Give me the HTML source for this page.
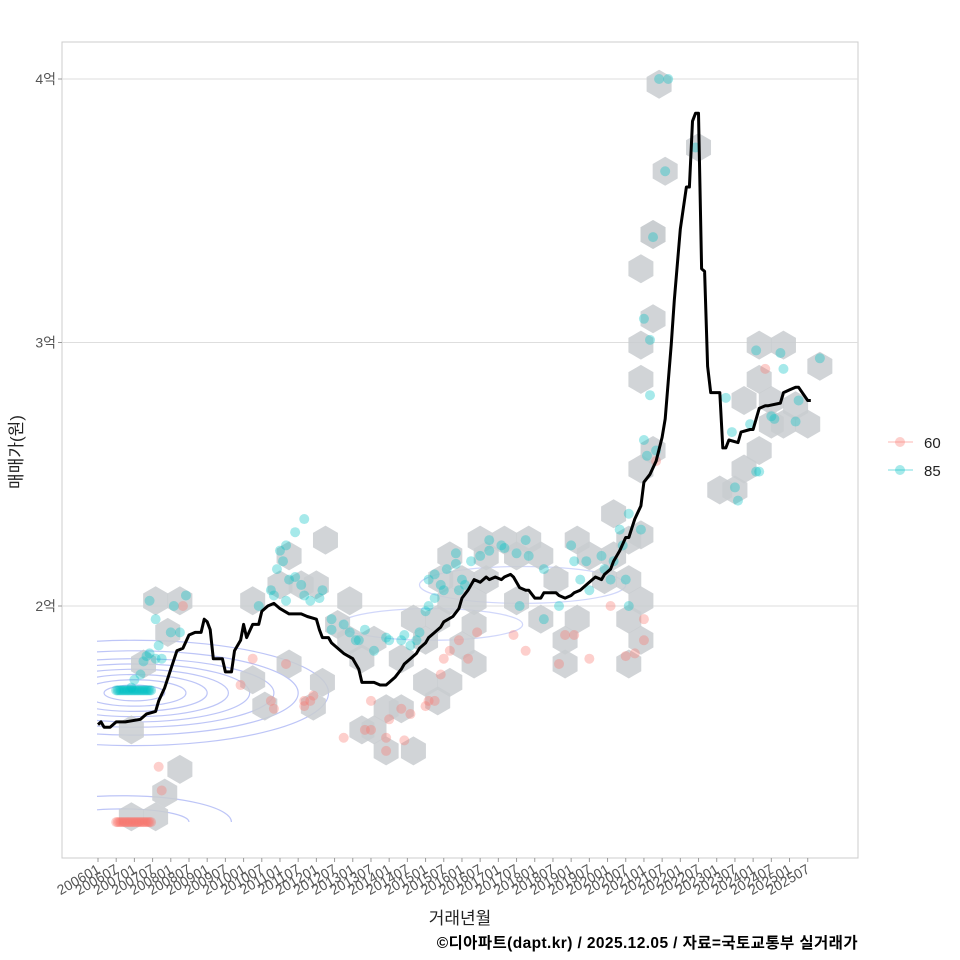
<!DOCTYPE html>
<html><head><meta charset="utf-8">
<style>
html,body{margin:0;padding:0;background:#fff;}
svg{display:block;font-family:"Liberation Sans","Noto Sans CJK KR",sans-serif;}
</style></head>
<body>
<svg id="chart" width="960" height="960" viewBox="0 0 960 960">
  <defs><clipPath id="panelClip"><rect x="97" y="43" width="760" height="779"/></clipPath></defs>
  <rect x="62" y="42" width="796" height="816" fill="#fff" stroke="#cccccc" stroke-width="1"/>
  <g id="grid"></g>
  <g id="contours" clip-path="url(#panelClip)"></g>
  <g id="hexes"></g>
  <g id="points"></g>
  <g id="line"></g>
  <g id="yaxis"></g>
  <g id="xaxis"></g>
  <text x="22" y="452" transform="rotate(-90 22 452)" text-anchor="middle" font-size="17" fill="#222">매매가(원)</text>
  <text x="460" y="924" text-anchor="middle" font-size="17" fill="#222">거래년월</text>
  <text x="858" y="948" text-anchor="end" font-size="15.5" font-weight="bold" letter-spacing="0.4" fill="#000">©디아파트(dapt.kr) / 2025.12.05 / 자료=국토교통부 실거래가</text>
  <g>
    <g>
      <line x1="888" y1="442" x2="913" y2="442" stroke="#f8766d" stroke-opacity="0.35" stroke-width="1.5"/>
      <circle cx="900" cy="442" r="5" fill="#f8766d" fill-opacity="0.35"/>
      <text x="924" y="448" font-size="15" fill="#222">60</text>
    </g>
    <g>
      <line x1="888" y1="470" x2="913" y2="470" stroke="#00bfc4" stroke-opacity="0.35" stroke-width="1.5"/>
      <circle cx="900" cy="470" r="5" fill="#00bfc4" fill-opacity="0.35"/>
      <text x="924" y="476" font-size="15" fill="#222">85</text>
    </g>
  </g>
</svg>
<script>
// ---- data (month index since 2006-01, value in 억) ----
const yTicks = [2, 3, 4];
const yTickLabels = ["2억", "3억", "4억"];
const xTickLabels = ["200601","200607","200701","200707","200801","200807","200901","200907","201001","201007","201101","201107","201201","201207","201301","201307","201401","201407","201501","201507","201601","201607","201701","201707","201801","201807","201901","201907","202001","202007","202101","202107","202201","202207","202301","202307","202401","202407","202501","202507"];
const lineMonths = [0,1,2,4,6,9,14,16,19,20,22,24,26,28,30,32,34,35,36,37,38,41,42,44,45,47,48,49,51,53,54,56,58,60,63,65,67,69,72,73,74,76,77,80,81,84,86,87,90,91,93,95,96,98,100,101,103,105,106,108,109,111,113,114,117,119,120,122,124,126,128,129,131,133,134,136,137,139,141,142,144,146,147,149,151,152,154,156,157,159,161,162,164,166,167,169,170,172,174,175,177,179,180,182,184,186,187,189,190,192,194,195,196,197,198,199,200,201,202,204,205,206,207,208,211,212,215,216,218,220,221,225,226,228,230,231,234,235,238];
const lineValues = [1.55,1.56,1.54,1.54,1.56,1.56,1.57,1.59,1.60,1.64,1.69,1.76,1.83,1.84,1.89,1.90,1.90,1.95,1.94,1.91,1.80,1.80,1.75,1.75,1.83,1.87,1.93,1.88,1.93,1.93,1.98,2.00,2.01,1.99,1.97,1.97,1.97,1.96,1.95,1.91,1.88,1.88,1.86,1.83,1.82,1.80,1.76,1.71,1.71,1.71,1.70,1.70,1.71,1.73,1.76,1.78,1.80,1.82,1.84,1.86,1.88,1.90,1.92,1.94,1.96,1.99,2.03,2.06,2.10,2.09,2.11,2.10,2.11,2.10,2.11,2.12,2.11,2.07,2.06,2.06,2.03,2.03,2.05,2.05,2.05,2.04,2.03,2.04,2.05,2.06,2.08,2.09,2.11,2.10,2.12,2.14,2.17,2.21,2.26,2.26,2.33,2.38,2.47,2.50,2.55,2.64,2.71,2.99,3.16,3.43,3.59,3.59,3.84,3.87,3.87,3.28,3.27,2.91,2.81,2.81,2.81,2.60,2.60,2.63,2.62,2.66,2.67,2.67,2.75,2.76,2.76,2.77,2.81,2.82,2.83,2.83,2.78,2.78];
const hexMonths = [11,19,22,27,11,15,19,27,23,51,51,55,63,74,71,63,60,67,72,75,83,79,83,91,87,95,100,95,104,91,87,100,108,104,112,116,113,116,120,124,128,124,120,124,112,108,116,128,126,134,142,138,146,151,138,146,154,158,154,158,162,167,170,175,170,175,179,179,175,179,175,179,183,179,179,183,179,183,183,187,185,198,205,210,213,218,213,218,222,218,226,222,226,230,234,238];
const hexValues = [1.20,1.20,1.29,1.38,1.53,1.78,2.02,2.02,1.90,2.02,1.72,1.62,1.78,1.71,1.62,2.19,2.08,2.08,2.08,2.25,1.87,1.93,2.02,1.53,1.53,1.61,1.61,1.45,1.45,1.87,1.80,1.80,1.87,1.95,1.95,2.02,2.10,2.19,2.10,2.02,2.10,1.93,1.85,1.78,1.64,1.71,1.71,2.19,2.25,2.25,2.25,2.19,2.19,2.10,2.02,1.95,1.87,1.95,1.78,2.25,2.19,2.10,2.35,2.25,2.19,2.10,2.27,2.02,1.95,1.87,1.78,2.52,2.59,2.86,2.99,3.09,3.28,3.41,3.41,3.65,3.98,3.74,2.44,2.44,2.52,2.59,2.78,2.86,2.78,2.99,2.99,2.69,2.69,2.76,2.69,2.91];
const cyanMonths = [17,25,29,19,24,27,20,17,15,14,12,11,16,19,21,60,61,59,63,65,67,68,70,73,74,68,65,62,57,58,53,62,77,77,81,83,85,86,88,91,95,96,100,101,103,105,106,108,109,111,109,111,113,114,115,118,119,120,121,118,123,126,129,129,133,134,138,141,142,139,147,147,152,156,157,159,161,162,166,167,169,170,172,173,174,175,175,179,180,181,184,182,180,182,183,187,185,188,197,207,209,210,211,215,217,218,217,225,226,222,223,230,231,238];
const cyanValues = [2.02,2.00,2.04,1.95,1.90,1.90,1.85,1.82,1.79,1.74,1.72,1.69,1.81,1.80,1.80,2.21,2.17,2.14,2.10,2.11,2.08,2.04,2.02,2.03,2.06,2.33,2.28,2.23,2.06,2.04,2.00,2.02,1.95,1.91,1.93,1.90,1.87,1.87,1.91,1.83,1.88,1.87,1.87,1.89,1.85,1.87,1.90,1.98,2.00,2.03,2.10,2.12,2.08,2.06,2.14,2.16,2.06,2.10,2.08,2.20,2.17,2.19,2.21,2.25,2.23,2.22,2.20,2.25,2.19,2.00,2.14,1.95,2.00,2.23,2.17,2.10,2.17,2.06,2.19,2.14,2.10,2.17,2.29,2.23,2.10,2.35,2.00,2.29,2.63,2.57,2.59,3.01,3.09,2.80,3.40,3.65,4.00,4.00,3.74,2.79,2.66,2.45,2.40,2.69,2.51,2.51,2.97,2.96,2.90,2.72,2.71,2.70,2.78,2.94];
const redMonths = [28,20,21,47,51,57,58,62,68,70,71,68,81,88,90,90,95,95,96,100,101,103,108,109,111,113,114,116,119,122,125,137,141,152,154,157,162,169,174,177,180,180,184,220];
const redValues = [2.00,1.39,1.30,1.70,1.80,1.64,1.61,1.78,1.64,1.64,1.66,1.62,1.50,1.53,1.53,1.64,1.50,1.45,1.57,1.61,1.49,1.59,1.62,1.64,1.64,1.74,1.80,1.83,1.87,1.80,1.90,1.89,1.83,1.78,1.89,1.89,1.80,2.00,1.81,1.82,1.87,1.95,2.55,2.90];
const cyanClusterValue = 1.68;
const redClusterValue = 1.18;
const clusterStart = 6, clusterEnd = 17.5;
// contour centers & radii (month, 억)
const contourCenters = [[12,1.67],[8,1.18],[110,1.93],[140,2.08]];
const contourRadiiM = [[10,17,24,31,38,46,54,64],[22,36],[30],[34]];
const contourRadiiV = [[0.03,0.05,0.07,0.09,0.11,0.13,0.16,0.2],[0.05,0.1],[0.06],[0.07]];

// ---- scales ----
const x = m => 98 + m * 3.033;
const y = v => 606 - (v - 2) * 263.5;
const NS = "http://www.w3.org/2000/svg";
function mk(tag, attrs, parent) {
  const e = document.createElementNS(NS, tag);
  for (const k in attrs) e.setAttribute(k, attrs[k]);
  parent.appendChild(e);
  return e;
}
const grid = document.getElementById('grid');
const yaxis = document.getElementById('yaxis');
yTicks.forEach((t, i) => {
  const gl = mk('line', {x1: 62, x2: 858, y1: y(t), y2: y(t), stroke: '#dedede', 'stroke-width': 1}, grid);
  
  
  mk('line', {x1: 58, x2: 62, y1: y(t), y2: y(t), stroke: '#999'}, yaxis);
  const tx = mk('text', {x: 56, y: y(t) + 5, 'text-anchor': 'end', 'font-size': 14, fill: '#555'}, yaxis);
  tx.textContent = yTickLabels[i];
  
  
});
const xaxis = document.getElementById('xaxis');
xTickLabels.forEach((lab, i) => {
  const xx = x(i * 6);
  mk('line', {x1: xx, x2: xx, y1: 858, y2: 862, stroke: '#999'}, xaxis);
  const tx = mk('text', {x: xx + 3, y: 872, 'text-anchor': 'end', 'font-size': 14, fill: '#555', transform: `rotate(-30 ${xx + 3} 872)`}, xaxis);
  tx.textContent = lab;
  
  
});
// contours
const cg = document.getElementById('contours');
contourCenters.forEach((c, i) => {
  contourRadiiM[i].forEach((rm, j) => {
    const el = mk('ellipse', {cx: x(c[0]), cy: y(c[1]), rx: rm * 3.033, ry: contourRadiiV[i][j] * 263.5, fill: 'none', stroke: '#7b8cf0', 'stroke-opacity': i < 2 ? 0.5 : 0.35, 'stroke-width': 1.2}, cg);
    
    
  });
});
// hexes
const hg = document.getElementById('hexes');
const hw = 12.5, hh = 14.5;
hexMonths.forEach((m, i) => {
  const cx = x(m), cy = y(hexValues[i]);
  const pts = [[0,-hh],[hw,-hh/2],[hw,hh/2],[0,hh],[-hw,hh/2],[-hw,-hh/2]].map(p => (cx + p[0]) + ',' + (cy + p[1])).join(' ');
  const el = mk('polygon', {points: pts, fill: '#c9ccd0', 'fill-opacity': 0.85}, hg);
  
  
});
// points
const pg = document.getElementById('points');
function dot(m, v, col) {
  const el = mk('circle', {cx: x(m), cy: y(v), r: 5, fill: col, 'fill-opacity': 0.35}, pg);
  
  
}
redMonths.forEach((m, i) => dot(m, redValues[i], '#f8766d'));
cyanMonths.forEach((m, i) => dot(m, cyanValues[i], '#00bfc4'));
for (let m = clusterStart; m <= clusterEnd; m += 0.5) {
  dot(m, cyanClusterValue, '#00bfc4');
  dot(m, redClusterValue, '#f8766d');
}
// line
const lg = document.getElementById('line');
const d = lineMonths.map((m, i) => (i ? 'L' : 'M') + x(m).toFixed(1) + ',' + y(lineValues[i]).toFixed(1)).join(' ');
const path = mk('path', {d: d, fill: 'none', stroke: '#000', 'stroke-width': 3, 'stroke-linejoin': 'round'}, lg);


</script>
</body></html>
